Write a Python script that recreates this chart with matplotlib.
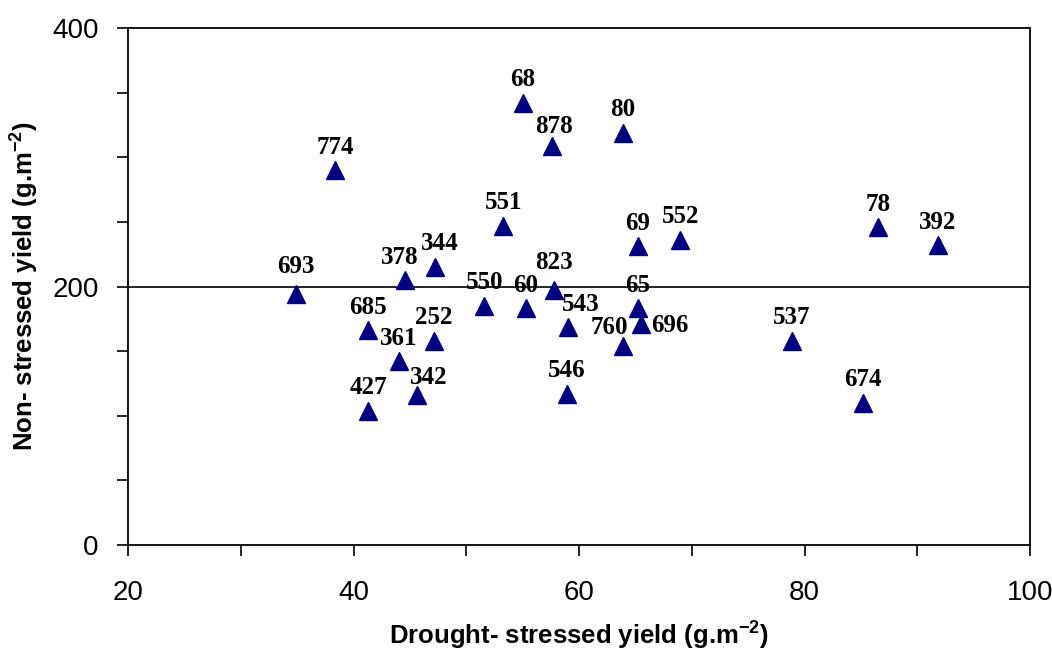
import matplotlib
matplotlib.use("Agg")
import matplotlib.pyplot as plt
from matplotlib.ticker import MultipleLocator

plt.rcParams["mathtext.fontset"] = "custom"
plt.rcParams["mathtext.bf"] = "Liberation Sans:bold"
plt.rcParams["mathtext.rm"] = "Liberation Sans:bold"
plt.rcParams["mathtext.default"] = "bf"

# genotype codes and yields
genotypes = ["693", "774", "685", "427", "361", "378", "342", "252", "344", "550",
             "551", "68", "60", "878", "823", "543", "546", "80", "760", "69",
             "65", "696", "552", "537", "674", "78", "392"]
drought_yield = [34.9, 38.4, 41.3, 41.3, 44.0, 44.6, 45.6, 47.1, 47.2, 51.6,
                 53.3, 55.0, 55.3, 57.6, 57.8, 59.0, 58.9, 63.9, 63.9, 65.2,
                 65.2, 65.5, 69.0, 78.9, 85.2, 86.5, 91.8]
nonstress_yield = [194, 290, 166, 104, 142, 205, 116, 158, 215, 185,
                   247, 342, 183, 309, 197, 169, 117, 319, 154, 231,
                   183, 171, 236, 158, 110, 246, 232]
mean_line = 200

fig = plt.figure(figsize=(10.52, 6.51), dpi=100)
ax = fig.add_axes([0.1217, 0.1628, 0.8574, 0.7942])

ax.plot(drought_yield, nonstress_yield, linestyle="none", marker="^",
        markersize=13, color="#000080", zorder=3)
ax.axhline(mean_line, color="black", linewidth=1.2, zorder=1)

# label offsets in pixels (dx, dy); default is straight above the marker
default_off = (0, 23)
special_off = {"696": (10, -2), "760": (-14, 18), "543": (13, 22),
               "342": (12, 18), "823": (0, 28), "693": (0, 28),
               "378": (-6, 23), "344": (5, 24), "878": (2, 19)}
for name, xv, yv in zip(genotypes, drought_yield, nonstress_yield):
    dx, dy = special_off.get(name, default_off)
    ha = "left" if name == "696" else "center"
    ax.annotate(name, (xv, yv), xytext=(dx * 0.72, dy * 0.72),
                textcoords="offset points", ha=ha, va="center",
                fontsize=18, fontweight="bold", family="Liberation Serif")

ax.set_xlim(20, 100)
ax.set_ylim(0, 400)
ax.xaxis.set_major_locator(MultipleLocator(20))
ax.xaxis.set_minor_locator(MultipleLocator(10))
ax.yaxis.set_major_locator(MultipleLocator(200))
ax.yaxis.set_minor_locator(MultipleLocator(50))
ax.tick_params(which="both", direction="out", length=8, width=1.2, color="black")
ax.tick_params(axis="x", which="major", pad=17, labelsize=20)
ax.tick_params(axis="y", which="major", pad=13, labelsize=20)
for lab in ax.get_xticklabels() + ax.get_yticklabels():
    lab.set_family("Liberation Sans")
for sp in ax.spines.values():
    sp.set_linewidth(1.3)
    sp.set_color("black")

ax.set_xlabel("Drought- stressed yield (g.m$^{-2}$)", fontsize=18.5,
              fontweight="bold", family="Liberation Sans", labelpad=10)
ax.set_ylabel("Non- stressed yield (g.m$^{-2}$)", fontsize=18.5,
              fontweight="bold", family="Liberation Sans", labelpad=8)

fig.savefig("out.png", dpi=100)
